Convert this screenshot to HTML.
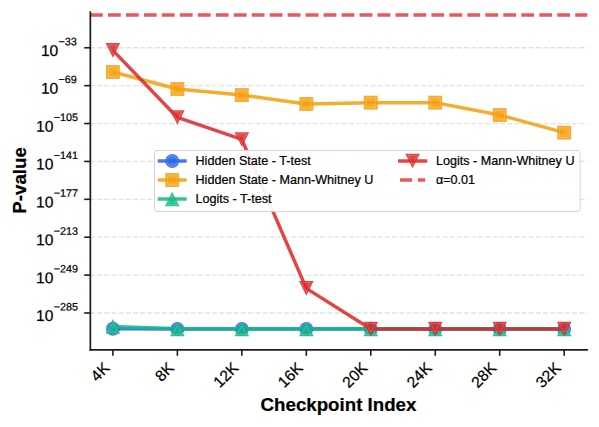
<!DOCTYPE html>
<html><head><meta charset="utf-8"><style>
html,body{margin:0;padding:0;background:#fff;}
svg{display:block;}
text{font-family:"Liberation Sans", sans-serif;stroke:#000;stroke-width:0.22px;}
#wrap{position:relative;width:599px;height:427px;overflow:hidden;}
</style></head><body><div id="wrap">
<svg width="599" height="427" viewBox="0 0 599 427">
<rect width="599" height="427" fill="#fff"/>
<line x1="89.8" y1="47.76" x2="587.2" y2="47.76" stroke="#e2e2e2" stroke-width="1.3" stroke-dasharray="5.194 2.0"/>
<line x1="89.8" y1="85.65" x2="587.2" y2="85.65" stroke="#e2e2e2" stroke-width="1.3" stroke-dasharray="5.194 2.0"/>
<line x1="89.8" y1="123.54" x2="587.2" y2="123.54" stroke="#e2e2e2" stroke-width="1.3" stroke-dasharray="5.194 2.0"/>
<line x1="89.8" y1="161.43" x2="587.2" y2="161.43" stroke="#e2e2e2" stroke-width="1.3" stroke-dasharray="5.194 2.0"/>
<line x1="89.8" y1="199.32" x2="587.2" y2="199.32" stroke="#e2e2e2" stroke-width="1.3" stroke-dasharray="5.194 2.0"/>
<line x1="89.8" y1="237.21" x2="587.2" y2="237.21" stroke="#e2e2e2" stroke-width="1.3" stroke-dasharray="5.194 2.0"/>
<line x1="89.8" y1="275.09" x2="587.2" y2="275.09" stroke="#e2e2e2" stroke-width="1.3" stroke-dasharray="5.194 2.0"/>
<line x1="89.8" y1="312.98" x2="587.2" y2="312.98" stroke="#e2e2e2" stroke-width="1.3" stroke-dasharray="5.194 2.0"/>
<polyline points="112.90,328.75 177.37,328.90 241.84,328.90 306.31,328.90 370.78,328.90 435.25,328.90 499.72,328.90 564.19,328.90" fill="none" stroke="#2563EB" stroke-width="3.47" stroke-linejoin="round" stroke-linecap="butt" opacity="0.85"/>
<g opacity="0.85"><circle cx="112.90" cy="328.75" r="6.95" fill="#2563EB"/></g><circle cx="112.90" cy="328.75" r="5.45" stroke="#fff" stroke-opacity="0.2" stroke-width="0.9" fill="none"/>
<g opacity="0.85"><circle cx="177.37" cy="328.90" r="6.95" fill="#2563EB"/></g><circle cx="177.37" cy="328.90" r="5.45" stroke="#fff" stroke-opacity="0.2" stroke-width="0.9" fill="none"/>
<g opacity="0.85"><circle cx="241.84" cy="328.90" r="6.95" fill="#2563EB"/></g><circle cx="241.84" cy="328.90" r="5.45" stroke="#fff" stroke-opacity="0.2" stroke-width="0.9" fill="none"/>
<g opacity="0.85"><circle cx="306.31" cy="328.90" r="6.95" fill="#2563EB"/></g><circle cx="306.31" cy="328.90" r="5.45" stroke="#fff" stroke-opacity="0.2" stroke-width="0.9" fill="none"/>
<g opacity="0.85"><circle cx="370.78" cy="328.90" r="6.95" fill="#2563EB"/></g><circle cx="370.78" cy="328.90" r="5.45" stroke="#fff" stroke-opacity="0.2" stroke-width="0.9" fill="none"/>
<g opacity="0.85"><circle cx="435.25" cy="328.90" r="6.95" fill="#2563EB"/></g><circle cx="435.25" cy="328.90" r="5.45" stroke="#fff" stroke-opacity="0.2" stroke-width="0.9" fill="none"/>
<g opacity="0.85"><circle cx="499.72" cy="328.90" r="6.95" fill="#2563EB"/></g><circle cx="499.72" cy="328.90" r="5.45" stroke="#fff" stroke-opacity="0.2" stroke-width="0.9" fill="none"/>
<g opacity="0.85"><circle cx="564.19" cy="328.90" r="6.95" fill="#2563EB"/></g><circle cx="564.19" cy="328.90" r="5.45" stroke="#fff" stroke-opacity="0.2" stroke-width="0.9" fill="none"/>
<polyline points="112.90,72.00 177.37,89.00 241.84,95.10 306.31,103.95 370.78,102.65 435.25,102.65 499.72,115.05 564.19,132.65" fill="none" stroke="#F59E0B" stroke-width="3.47" stroke-linejoin="round" stroke-linecap="butt" opacity="0.85"/>
<g opacity="0.85"><rect x="105.95" y="65.05" width="13.90" height="13.90" fill="#F59E0B"/></g><rect x="108.05" y="67.15" width="9.70" height="9.70" stroke="#fff" stroke-opacity="0.2" stroke-width="0.9" fill="none"/>
<g opacity="0.85"><rect x="170.42" y="82.05" width="13.90" height="13.90" fill="#F59E0B"/></g><rect x="172.52" y="84.15" width="9.70" height="9.70" stroke="#fff" stroke-opacity="0.2" stroke-width="0.9" fill="none"/>
<g opacity="0.85"><rect x="234.89" y="88.15" width="13.90" height="13.90" fill="#F59E0B"/></g><rect x="236.99" y="90.25" width="9.70" height="9.70" stroke="#fff" stroke-opacity="0.2" stroke-width="0.9" fill="none"/>
<g opacity="0.85"><rect x="299.36" y="97.00" width="13.90" height="13.90" fill="#F59E0B"/></g><rect x="301.46" y="99.10" width="9.70" height="9.70" stroke="#fff" stroke-opacity="0.2" stroke-width="0.9" fill="none"/>
<g opacity="0.85"><rect x="363.83" y="95.70" width="13.90" height="13.90" fill="#F59E0B"/></g><rect x="365.93" y="97.80" width="9.70" height="9.70" stroke="#fff" stroke-opacity="0.2" stroke-width="0.9" fill="none"/>
<g opacity="0.85"><rect x="428.30" y="95.70" width="13.90" height="13.90" fill="#F59E0B"/></g><rect x="430.40" y="97.80" width="9.70" height="9.70" stroke="#fff" stroke-opacity="0.2" stroke-width="0.9" fill="none"/>
<g opacity="0.85"><rect x="492.77" y="108.10" width="13.90" height="13.90" fill="#F59E0B"/></g><rect x="494.87" y="110.20" width="9.70" height="9.70" stroke="#fff" stroke-opacity="0.2" stroke-width="0.9" fill="none"/>
<g opacity="0.85"><rect x="557.24" y="125.70" width="13.90" height="13.90" fill="#F59E0B"/></g><rect x="559.34" y="127.80" width="9.70" height="9.70" stroke="#fff" stroke-opacity="0.2" stroke-width="0.9" fill="none"/>
<polyline points="112.90,326.40 177.37,328.85 241.84,328.85 306.31,328.85 370.78,328.85 435.25,328.85 499.72,328.85 564.19,328.85" fill="none" stroke="#10B981" stroke-width="3.47" stroke-linejoin="round" stroke-linecap="butt" opacity="0.85"/>
<path d="M112.90,319.10 L105.60,333.70 L120.20,333.70 Z" fill="#10B981" opacity="0.85"/><path d="M112.90,322.90 L108.35,332.00 L117.45,332.00 Z" stroke="#fff" stroke-opacity="0.2" stroke-width="0.9" fill="none"/>
<path d="M177.37,321.55 L170.07,336.15 L184.67,336.15 Z" fill="#10B981" opacity="0.85"/><path d="M177.37,325.35 L172.82,334.45 L181.92,334.45 Z" stroke="#fff" stroke-opacity="0.2" stroke-width="0.9" fill="none"/>
<path d="M241.84,321.55 L234.54,336.15 L249.14,336.15 Z" fill="#10B981" opacity="0.85"/><path d="M241.84,325.35 L237.29,334.45 L246.39,334.45 Z" stroke="#fff" stroke-opacity="0.2" stroke-width="0.9" fill="none"/>
<path d="M306.31,321.55 L299.01,336.15 L313.61,336.15 Z" fill="#10B981" opacity="0.85"/><path d="M306.31,325.35 L301.76,334.45 L310.86,334.45 Z" stroke="#fff" stroke-opacity="0.2" stroke-width="0.9" fill="none"/>
<path d="M370.78,321.55 L363.48,336.15 L378.08,336.15 Z" fill="#10B981" opacity="0.85"/><path d="M370.78,325.35 L366.23,334.45 L375.33,334.45 Z" stroke="#fff" stroke-opacity="0.2" stroke-width="0.9" fill="none"/>
<path d="M435.25,321.55 L427.95,336.15 L442.55,336.15 Z" fill="#10B981" opacity="0.85"/><path d="M435.25,325.35 L430.70,334.45 L439.80,334.45 Z" stroke="#fff" stroke-opacity="0.2" stroke-width="0.9" fill="none"/>
<path d="M499.72,321.55 L492.42,336.15 L507.02,336.15 Z" fill="#10B981" opacity="0.85"/><path d="M499.72,325.35 L495.17,334.45 L504.27,334.45 Z" stroke="#fff" stroke-opacity="0.2" stroke-width="0.9" fill="none"/>
<path d="M564.19,321.55 L556.89,336.15 L571.49,336.15 Z" fill="#10B981" opacity="0.85"/><path d="M564.19,325.35 L559.64,334.45 L568.74,334.45 Z" stroke="#fff" stroke-opacity="0.2" stroke-width="0.9" fill="none"/>
<polyline points="112.90,50.40 177.37,117.45 241.84,139.45 306.31,288.40 370.78,329.00 435.25,329.00 499.72,329.00 564.19,329.00" fill="none" stroke="#DC2626" stroke-width="3.47" stroke-linejoin="round" stroke-linecap="butt" opacity="0.85"/>
<path d="M112.90,57.70 L105.60,43.10 L120.20,43.10 Z" fill="#DC2626" opacity="0.85"/><path d="M112.90,53.90 L108.35,44.80 L117.45,44.80 Z" stroke="#fff" stroke-opacity="0.2" stroke-width="0.9" fill="none"/>
<path d="M177.37,124.75 L170.07,110.15 L184.67,110.15 Z" fill="#DC2626" opacity="0.85"/><path d="M177.37,120.95 L172.82,111.85 L181.92,111.85 Z" stroke="#fff" stroke-opacity="0.2" stroke-width="0.9" fill="none"/>
<path d="M241.84,146.75 L234.54,132.15 L249.14,132.15 Z" fill="#DC2626" opacity="0.85"/><path d="M241.84,142.95 L237.29,133.85 L246.39,133.85 Z" stroke="#fff" stroke-opacity="0.2" stroke-width="0.9" fill="none"/>
<path d="M306.31,295.70 L299.01,281.10 L313.61,281.10 Z" fill="#DC2626" opacity="0.85"/><path d="M306.31,291.90 L301.76,282.80 L310.86,282.80 Z" stroke="#fff" stroke-opacity="0.2" stroke-width="0.9" fill="none"/>
<path d="M370.78,336.30 L363.48,321.70 L378.08,321.70 Z" fill="#DC2626" opacity="0.85"/><path d="M370.78,332.50 L366.23,323.40 L375.33,323.40 Z" stroke="#fff" stroke-opacity="0.2" stroke-width="0.9" fill="none"/>
<path d="M435.25,336.30 L427.95,321.70 L442.55,321.70 Z" fill="#DC2626" opacity="0.85"/><path d="M435.25,332.50 L430.70,323.40 L439.80,323.40 Z" stroke="#fff" stroke-opacity="0.2" stroke-width="0.9" fill="none"/>
<path d="M499.72,336.30 L492.42,321.70 L507.02,321.70 Z" fill="#DC2626" opacity="0.85"/><path d="M499.72,332.50 L495.17,323.40 L504.27,323.40 Z" stroke="#fff" stroke-opacity="0.2" stroke-width="0.9" fill="none"/>
<path d="M564.19,336.30 L556.89,321.70 L571.49,321.70 Z" fill="#DC2626" opacity="0.85"/><path d="M564.19,332.50 L559.64,323.40 L568.74,323.40 Z" stroke="#fff" stroke-opacity="0.2" stroke-width="0.9" fill="none"/>
<line x1="90.0" y1="15.0" x2="587.2" y2="15.0" stroke="#EF4444" stroke-width="3.47" stroke-dasharray="12.8 5.17" opacity="0.9"/>
<rect x="154.5" y="150.5" width="425.6" height="60.900000000000006" rx="2.5" fill="#fff" fill-opacity="0.92" stroke="#d4d4d4" stroke-width="1"/>
<line x1="157.7" y1="161.0" x2="186.7" y2="161.0" stroke="#2563EB" stroke-width="3.47" opacity="0.85"/>
<g opacity="0.85"><circle cx="172.20" cy="161.00" r="6.95" fill="#2563EB"/></g><circle cx="172.20" cy="161.00" r="5.45" stroke="#fff" stroke-opacity="0.2" stroke-width="0.9" fill="none"/>
<line x1="157.7" y1="180.0" x2="186.7" y2="180.0" stroke="#F59E0B" stroke-width="3.47" opacity="0.85"/>
<g opacity="0.85"><rect x="165.25" y="173.05" width="13.90" height="13.90" fill="#F59E0B"/></g><rect x="167.35" y="175.15" width="9.70" height="9.70" stroke="#fff" stroke-opacity="0.2" stroke-width="0.9" fill="none"/>
<line x1="157.7" y1="199.0" x2="186.7" y2="199.0" stroke="#10B981" stroke-width="3.47" opacity="0.85"/>
<path d="M172.20,191.70 L164.90,206.30 L179.50,206.30 Z" fill="#10B981" opacity="0.85"/><path d="M172.20,195.50 L167.65,204.60 L176.75,204.60 Z" stroke="#fff" stroke-opacity="0.2" stroke-width="0.9" fill="none"/>
<line x1="398.0" y1="161.0" x2="427.2" y2="161.0" stroke="#DC2626" stroke-width="3.47" opacity="0.85"/>
<path d="M412.60,168.30 L405.30,153.70 L419.90,153.70 Z" fill="#DC2626" opacity="0.85"/><path d="M412.60,164.50 L408.05,155.40 L417.15,155.40 Z" stroke="#fff" stroke-opacity="0.2" stroke-width="0.9" fill="none"/>
<line x1="400" y1="180.0" x2="425.2" y2="180.0" stroke="#EF4444" stroke-width="3.47" stroke-dasharray="12.2 5.7" opacity="0.9"/>
<line x1="90.35" y1="11.2" x2="90.35" y2="350.70000000000005" stroke="#1c1c1c" stroke-width="1.7"/>
<line x1="89.5" y1="349.87" x2="587.9" y2="349.87" stroke="#1c1c1c" stroke-width="1.7"/>
<line x1="84.2" y1="47.76" x2="90.0" y2="47.76" stroke="#1c1c1c" stroke-width="1.6"/>
<line x1="84.2" y1="85.65" x2="90.0" y2="85.65" stroke="#1c1c1c" stroke-width="1.6"/>
<line x1="84.2" y1="123.54" x2="90.0" y2="123.54" stroke="#1c1c1c" stroke-width="1.6"/>
<line x1="84.2" y1="161.43" x2="90.0" y2="161.43" stroke="#1c1c1c" stroke-width="1.6"/>
<line x1="84.2" y1="199.32" x2="90.0" y2="199.32" stroke="#1c1c1c" stroke-width="1.6"/>
<line x1="84.2" y1="237.21" x2="90.0" y2="237.21" stroke="#1c1c1c" stroke-width="1.6"/>
<line x1="84.2" y1="275.09" x2="90.0" y2="275.09" stroke="#1c1c1c" stroke-width="1.6"/>
<line x1="84.2" y1="312.98" x2="90.0" y2="312.98" stroke="#1c1c1c" stroke-width="1.6"/>
<line x1="112.90" y1="349.6" x2="112.90" y2="355.8" stroke="#1c1c1c" stroke-width="1.6"/>
<line x1="177.37" y1="349.6" x2="177.37" y2="355.8" stroke="#1c1c1c" stroke-width="1.6"/>
<line x1="241.84" y1="349.6" x2="241.84" y2="355.8" stroke="#1c1c1c" stroke-width="1.6"/>
<line x1="306.31" y1="349.6" x2="306.31" y2="355.8" stroke="#1c1c1c" stroke-width="1.6"/>
<line x1="370.78" y1="349.6" x2="370.78" y2="355.8" stroke="#1c1c1c" stroke-width="1.6"/>
<line x1="435.25" y1="349.6" x2="435.25" y2="355.8" stroke="#1c1c1c" stroke-width="1.6"/>
<line x1="499.72" y1="349.6" x2="499.72" y2="355.8" stroke="#1c1c1c" stroke-width="1.6"/>
<line x1="564.19" y1="349.6" x2="564.19" y2="355.8" stroke="#1c1c1c" stroke-width="1.6"/>
<text x="195.50" y="164.60" font-size="12.6" text-anchor="start" fill="#000">Hidden State - T-test</text>
<text x="195.50" y="183.60" font-size="12.6" text-anchor="start" fill="#000">Hidden State - Mann-Whitney U</text>
<text x="195.50" y="202.60" font-size="12.6" text-anchor="start" fill="#000">Logits - T-test</text>
<text x="435.90" y="164.60" font-size="12.6" text-anchor="start" fill="#000">Logits - Mann-Whitney U</text>
<text x="435.90" y="183.60" font-size="12.6" text-anchor="start" fill="#000">α=0.01</text>
<text x="76.85" y="55.96" font-size="15.55" text-anchor="end" fill="#000" transform="rotate(0.1 76.85 55.96)">10<tspan font-size="10.8" dx="0.3" dy="-10.7">−33</tspan></text>
<text x="76.85" y="93.85" font-size="15.55" text-anchor="end" fill="#000" transform="rotate(0.1 76.85 93.85)">10<tspan font-size="10.8" dx="0.3" dy="-10.7">−69</tspan></text>
<text x="77.95" y="131.74" font-size="15.55" text-anchor="end" fill="#000" transform="rotate(0.1 77.95 131.74)">10<tspan font-size="10.8" dx="0.3" dy="-10.7">−105</tspan></text>
<text x="77.95" y="169.63" font-size="15.55" text-anchor="end" fill="#000" transform="rotate(0.1 77.95 169.63)">10<tspan font-size="10.8" dx="0.3" dy="-10.7">−141</tspan></text>
<text x="77.95" y="207.52" font-size="15.55" text-anchor="end" fill="#000" transform="rotate(0.1 77.95 207.52)">10<tspan font-size="10.8" dx="0.3" dy="-10.7">−177</tspan></text>
<text x="77.95" y="245.41" font-size="15.55" text-anchor="end" fill="#000" transform="rotate(0.1 77.95 245.41)">10<tspan font-size="10.8" dx="0.3" dy="-10.7">−213</tspan></text>
<text x="77.95" y="283.29" font-size="15.55" text-anchor="end" fill="#000" transform="rotate(0.1 77.95 283.29)">10<tspan font-size="10.8" dx="0.3" dy="-10.7">−249</tspan></text>
<text x="77.95" y="321.18" font-size="15.55" text-anchor="end" fill="#000" transform="rotate(0.1 77.95 321.18)">10<tspan font-size="10.8" dx="0.3" dy="-10.7">−285</tspan></text>
<text x="110.50" y="369.00" font-size="15.6" text-anchor="end" fill="#000" transform="rotate(-45 110.50 369.00)">4K</text>
<text x="174.97" y="369.00" font-size="15.6" text-anchor="end" fill="#000" transform="rotate(-45 174.97 369.00)">8K</text>
<text x="239.44" y="369.00" font-size="15.6" text-anchor="end" fill="#000" transform="rotate(-45 239.44 369.00)">12K</text>
<text x="303.91" y="369.00" font-size="15.6" text-anchor="end" fill="#000" transform="rotate(-45 303.91 369.00)">16K</text>
<text x="368.38" y="369.00" font-size="15.6" text-anchor="end" fill="#000" transform="rotate(-45 368.38 369.00)">20K</text>
<text x="432.85" y="369.00" font-size="15.6" text-anchor="end" fill="#000" transform="rotate(-45 432.85 369.00)">24K</text>
<text x="497.32" y="369.00" font-size="15.6" text-anchor="end" fill="#000" transform="rotate(-45 497.32 369.00)">28K</text>
<text x="561.79" y="369.00" font-size="15.6" text-anchor="end" fill="#000" transform="rotate(-45 561.79 369.00)">32K</text>
<text x="338.50" y="411.00" font-size="18.7" text-anchor="middle" fill="#000" font-weight="bold">Checkpoint Index</text>
<text x="25.60" y="180.40" font-size="18.7" text-anchor="middle" fill="#000" font-weight="bold" transform="rotate(-90 25.60 180.40)">P-value</text>
</svg>
</div></body></html>
